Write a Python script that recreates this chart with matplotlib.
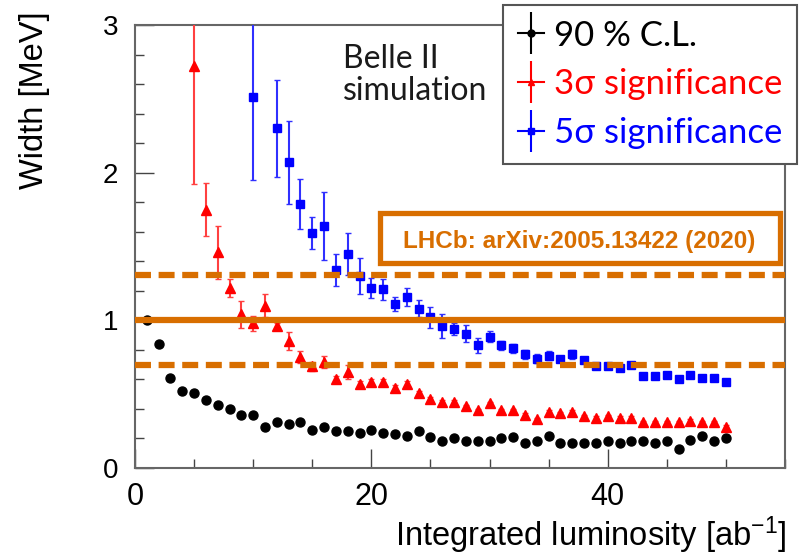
import numpy as np
import matplotlib
matplotlib.use("Agg")
import matplotlib.pyplot as plt
from matplotlib.lines import Line2D
from matplotlib.patches import Rectangle
from matplotlib.ticker import MultipleLocator

plt.rcParams['font.family'] = ['Liberation Sans', 'DejaVu Sans']
plt.rcParams['mathtext.fontset'] = 'custom'
plt.rcParams['mathtext.rm'] = 'Liberation Sans'
plt.rcParams['mathtext.default'] = 'regular'
plt.rcParams['lines.scale_dashes'] = False

# 90 % C.L. upper limit on the width
lumi_cl = np.arange(1, 51)
width_cl = [1.00, 0.84, 0.61, 0.52, 0.51, 0.46, 0.43, 0.40, 0.36, 0.36,
            0.28, 0.31, 0.30, 0.31, 0.26, 0.28, 0.25, 0.25, 0.24, 0.26,
            0.24, 0.23, 0.22, 0.25, 0.21, 0.18, 0.20, 0.18, 0.18, 0.18,
            0.20, 0.21, 0.17, 0.18, 0.22, 0.17, 0.17, 0.17, 0.17, 0.18,
            0.17, 0.18, 0.18, 0.17, 0.18, 0.13, 0.19, 0.22, 0.18, 0.20]

# 3 sigma significance
lumi_3s = np.arange(5, 51)
width_3s = [2.72, 1.75, 1.46, 1.22, 1.04, 0.98, 1.10, 0.96, 0.86, 0.75,
            0.69, 0.72, 0.60, 0.65, 0.57, 0.58, 0.58, 0.54, 0.57, 0.51,
            0.47, 0.45, 0.45, 0.42, 0.39, 0.44, 0.39, 0.39, 0.36, 0.33,
            0.38, 0.37, 0.38, 0.35, 0.34, 0.35, 0.34, 0.34, 0.31, 0.31,
            0.31, 0.31, 0.32, 0.31, 0.31, 0.28]
err_3s = [0.80, 0.18, 0.18, 0.06, 0.09, 0.05, 0.08, 0.02, 0.06, 0.04,
          0.03, 0.04, 0.02, 0.05, 0.02, 0.02, 0.02, 0.02, 0.02, 0.01,
          0.01, 0.01, 0.01, 0.01, 0.01, 0.01, 0.01, 0.01, 0.01, 0.01,
          0.01, 0.01, 0.01, 0.01, 0.01, 0.01, 0.01, 0.01, 0.01, 0.01,
          0.01, 0.01, 0.01, 0.01, 0.01, 0.01]

# 5 sigma significance (no point at 11 ab^-1)
lumi_5s = [10] + list(range(12, 51))
width_5s = [2.51, 2.30, 2.07, 1.79, 1.59, 1.64, 1.34, 1.45, 1.30, 1.22,
            1.21, 1.11, 1.16, 1.08, 1.02, 0.96, 0.94, 0.91, 0.83, 0.89,
            0.83, 0.81, 0.77, 0.74, 0.76, 0.74, 0.77, 0.73, 0.69, 0.69,
            0.68, 0.70, 0.62, 0.62, 0.63, 0.60, 0.63, 0.61, 0.61, 0.58]
err_5s = [0.56, 0.33, 0.28, 0.17, 0.11, 0.23, 0.11, 0.14, 0.12, 0.07,
          0.07, 0.05, 0.06, 0.06, 0.07, 0.08, 0.04, 0.06, 0.05, 0.04,
          0.03, 0.03, 0.03, 0.03, 0.03, 0.02, 0.03, 0.02, 0.02, 0.02,
          0.02, 0.01, 0.01, 0.01, 0.01, 0.01, 0.01, 0.01, 0.01, 0.01]

# LHCb measurement: central value and band edges
lhcb_central = 1.00
lhcb_band = [0.70, 1.31]
lhcb_text = 'LHCb: arXiv:2005.13422 (2020)'

orange = '#D86E00'

fig = plt.figure(figsize=(8.06, 5.56), dpi=100)
ax = fig.add_axes([135 / 806, 88 / 556, 650 / 806, 443 / 556])

ax.plot(lumi_cl, width_cl, 'o', color='black', markersize=6.5, zorder=3)
ax.errorbar(lumi_3s, width_3s, yerr=err_3s, fmt='^', color='red',
            markersize=7, elinewidth=1.5, capsize=2, ecolor='#FF4040', zorder=3)
ax.errorbar(lumi_5s, width_5s, yerr=err_5s, fmt='s', color='blue',
            markersize=6.3, elinewidth=1.5, capsize=2, ecolor='#3030FF', zorder=3)

ax.axhline(lhcb_central, color=orange, lw=4.5, zorder=5)
for yb in lhcb_band:
    ax.axhline(yb, color=orange, lw=4.5, dashes=(11.5, 5.5), zorder=5)

box = Rectangle((0.377, 0.463), 0.615, 0.113, transform=ax.transAxes,
                facecolor='white', edgecolor=orange, lw=3.8, zorder=6)
ax.add_patch(box)
ax.text(0.684, 0.512, lhcb_text, transform=ax.transAxes, ha='center',
        va='center', color=orange, fontsize=17.5, fontweight='bold', zorder=7)

ax.text(0.32, 0.903, 'Belle II', transform=ax.transAxes, fontsize=23,
        family=['Lato', 'DejaVu Sans'], color='#1a1a1a', va='baseline')
ax.text(0.32, 0.831, 'simulation', transform=ax.transAxes, fontsize=23,
        family=['Lato', 'DejaVu Sans'], color='#1a1a1a', va='baseline')

ax.set_xlim(0, 55)
ax.set_ylim(0, 3)
ax.xaxis.set_major_locator(MultipleLocator(20))
ax.xaxis.set_minor_locator(MultipleLocator(5))
ax.yaxis.set_major_locator(MultipleLocator(1))
ax.yaxis.set_minor_locator(MultipleLocator(0.2))
ax.tick_params(which='both', direction='in', color='#444444', width=1)
ax.tick_params(which='major', length=14)
ax.tick_params(which='minor', length=6.5)
ax.tick_params(axis='x', labelsize=22, pad=10)
ax.tick_params(axis='y', labelsize=20, pad=12)
for sp in ax.spines.values():
    sp.set_color('#666666')
    sp.set_linewidth(1.5)

fig.text(35 / 806, 1 - 100 / 556, 'Width [MeV]', rotation=90, ha='center',
         va='center', fontsize=23.5)
fig.text(786 / 806, 1 - 535 / 556, r'Integrated luminosity [ab$^{-1}$]',
         ha='right', va='center', fontsize=23.5)

# legend entries drawn as a marker crossed by an error bar
handles = []
for col, mk in [('black', 'o'), ('red', '^'), ('blue', 's')]:
    h = Line2D([], [], color=col, marker=mk, markersize=5, lw=1.5)
    v = Line2D([], [], color=col, marker='|', markersize=30,
               markeredgewidth=1.5, linestyle='none')
    handles.append((h, v))
labels = ['90 % C.L.', '3σ significance', '5σ significance']
leg = fig.legend(handles, labels, loc='upper left',
                 bbox_to_anchor=(503 / 806, 1 - 5 / 556),
                 prop={'family': ['Lato', 'DejaVu Sans'], 'size': 25},
                 frameon=True, fancybox=False, framealpha=1,
                 edgecolor='#555555', handlelength=0.75, handletextpad=0.3,
                 borderpad=0.42, labelspacing=0.48, borderaxespad=0)
leg.get_frame().set_linewidth(1.5)
leg.set_zorder(10)
for txt, col in zip(leg.get_texts(), ['black', 'red', 'blue']):
    txt.set_color(col)

fig.savefig('out.png', dpi=100)
